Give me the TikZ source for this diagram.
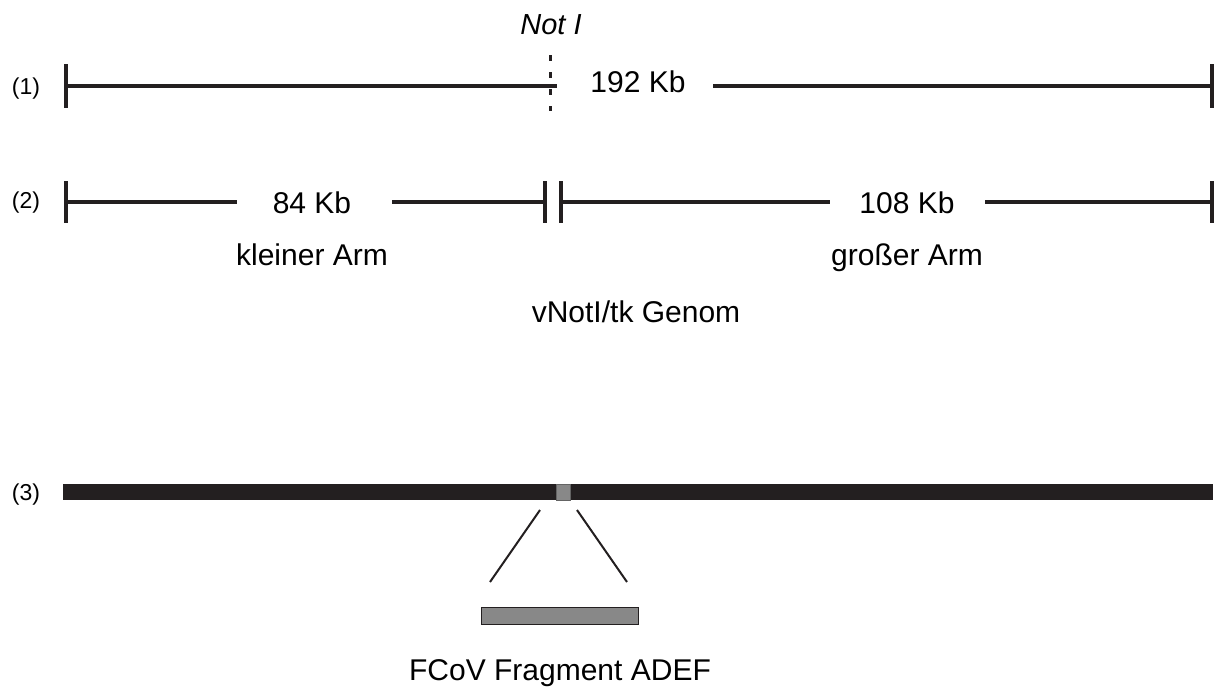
\documentclass[tikz,border=0pt]{standalone}
\usepackage{fontspec}
\setmainfont{Liberation Sans}
\definecolor{ink}{RGB}{35,31,32}
\definecolor{gfill}{RGB}{136,136,136}
\definecolor{gedge}{RGB}{100,100,100}
\begin{document}
\begin{tikzpicture}[x=1pt,y=-1pt,
  big/.style={font=\fontsize{30}{36}\selectfont, inner sep=0pt, anchor=base},
  lbl/.style={font=\fontsize{23}{28}\selectfont, inner sep=0pt, anchor=base},
  seg/.style={line width=4pt, draw=ink},
  tick/.style={line width=4.5pt, draw=ink},
  thin/.style={line width=2pt, draw=ink}]
\useasboundingbox (0,0) rectangle (1216,689);
% labels
\node[lbl] (l1) at (26,94) {(1)};
\node[lbl] (l2) at (26,208) {(2)};
\node[lbl] (l3) at (26,500) {(3)};
\node[big, font=\fontsize{29}{34}\selectfont\itshape] (noti) at (551,34) {Not I};
% line 1
\coordinate (a1) at (66,86);
\coordinate (a2) at (557,86);
\coordinate (a3) at (713,86);
\coordinate (a4) at (1212,86);
\node[big] (k192) at (638,92) {192 Kb};
\draw[tick] (66,64) -- (66,108);
\draw[tick] (1212,64) -- (1212,108);
\draw[seg] (a1) -- (a2);
\draw[seg] (a3) -- (a4);
\coordinate (d1) at (550,55);
\coordinate (d2) at (550,111);
\draw[line width=3pt, draw=ink, dash pattern=on 6pt off 11pt] (d1) -- (d2);
% line 2
\coordinate (b1) at (66,202);
\coordinate (b2) at (237,202);
\coordinate (b3) at (392,202);
\coordinate (b4) at (545,202);
\coordinate (b5) at (561,202);
\coordinate (b6) at (830,202);
\coordinate (b7) at (985,202);
\coordinate (b8) at (1212,202);
\node[big] (k84) at (312,213) {84 Kb};
\node[big] (k108) at (907,213) {108 Kb};
\draw[tick] (66,181) -- (66,223);
\draw[tick] (545,181) -- (545,223);
\draw[tick] (561,181) -- (561,223);
\draw[tick] (1212,181) -- (1212,223);
\draw[seg] (b1) -- (b2);
\draw[seg] (b3) -- (b4);
\draw[seg] (b5) -- (b6);
\draw[seg] (b7) -- (b8);
\node[big] (klein) at (312,265) {kleiner Arm};
\node[big] (gross) at (907,265) {großer Arm};
\node[big] (genom) at (636,322) {vNotI/tk Genom};
% bar 3
\fill[ink] (63,484) rectangle (1213,500);
\draw[fill=gfill, draw=gedge, line width=1pt] (556,484) rectangle (570,500);
\coordinate (c1) at (540,510);
\coordinate (c2) at (490,582);
\coordinate (c3) at (577,510);
\coordinate (c4) at (627,582);
\draw[thin] (c1) -- (c2);
\draw[thin] (c3) -- (c4);
\node[draw=ink, line width=1pt, fill=gfill, minimum width=157pt, minimum height=17pt, inner sep=0pt] (frag) at (559.5,615.5) {};
\node[big] (fcov) at (560,680) {FCoV Fragment ADEF};
\end{tikzpicture}
\end{document}
